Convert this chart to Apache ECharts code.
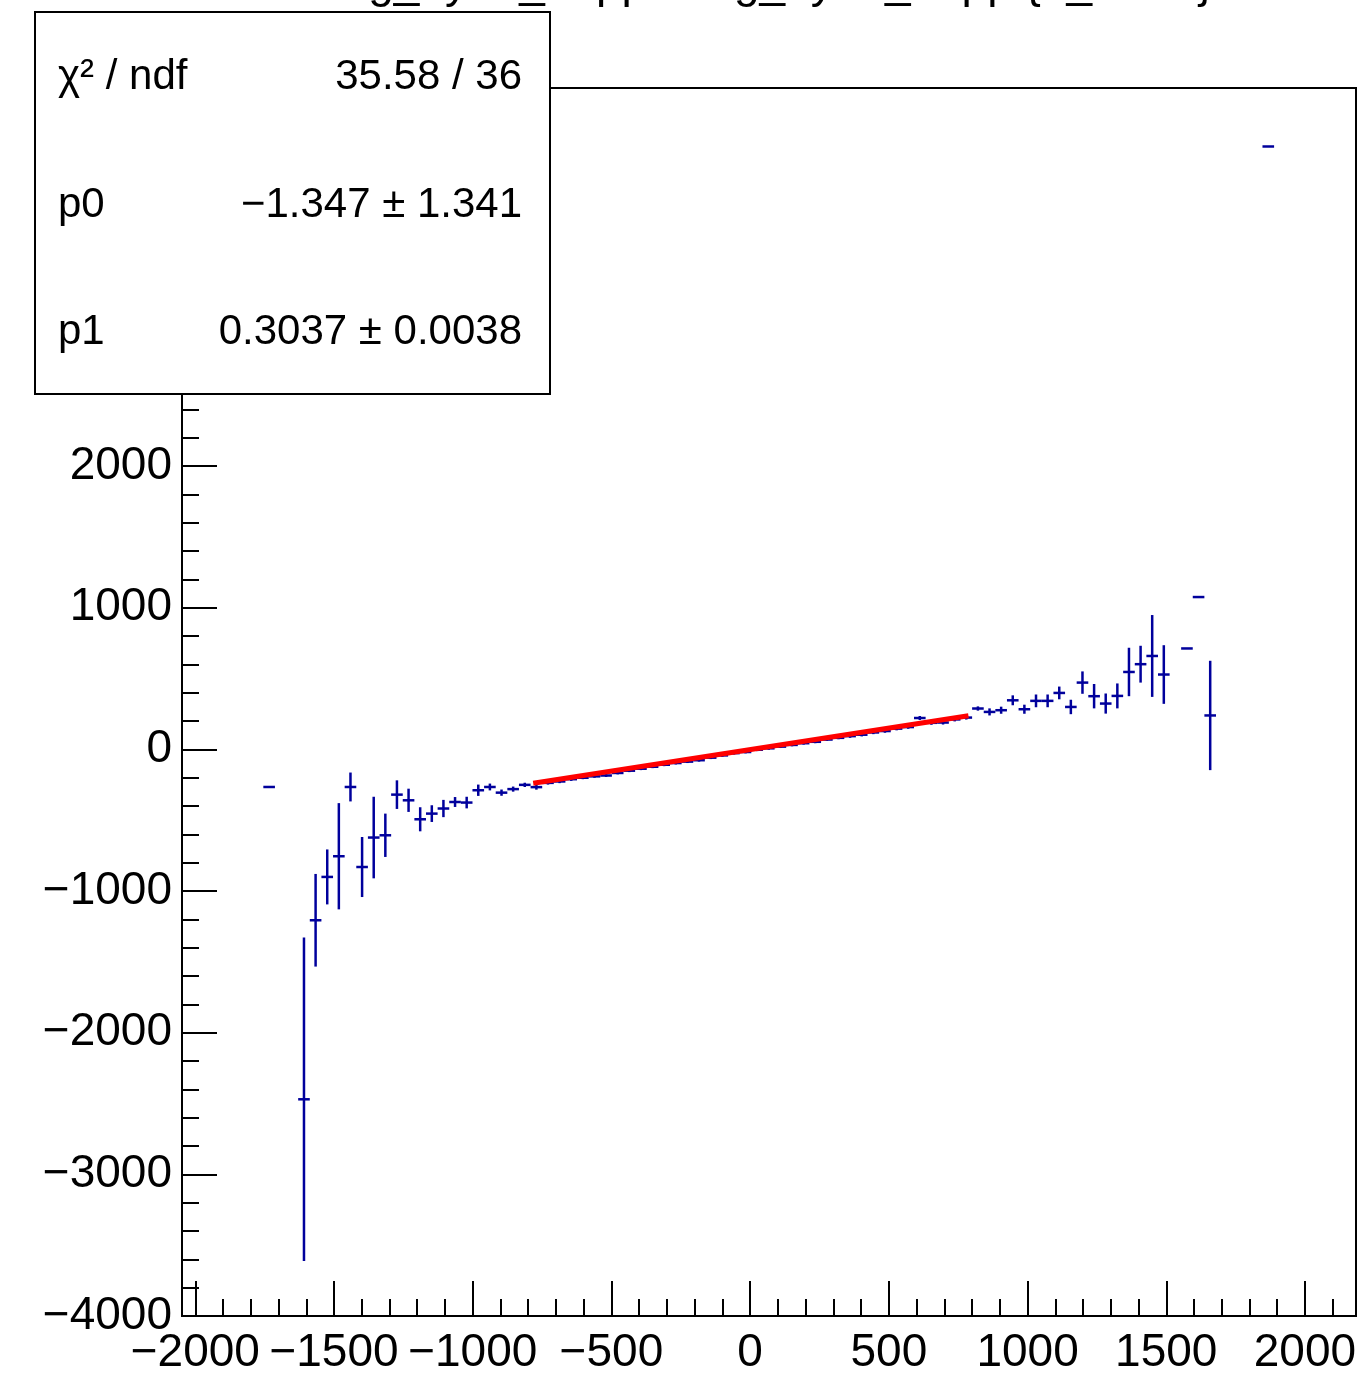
<!DOCTYPE html>
<html><head><meta charset="utf-8">
<script src="https://cdn.jsdelivr.net/npm/echarts@6/dist/echarts.min.js"></script>
<style>html,body{margin:0;padding:0;background:#fff}#c{width:1358px;height:1375px}</style>
</head><body><div id="c"></div>
<script>
// ---- profile bins: centre, mean, error ----
const binCenters = [
  -1733.9,
  -1608.3, -1566.4, -1524.5, -1482.6, -1440.7, -1398.8, -1356.9, -1315.0, -1273.2, -1231.3,
  -1189.4, -1147.5, -1105.6, -1063.7, -1021.8, -980.0, -938.1, -896.2, -854.3,
  -812.4, -770.5, -728.7, -686.8, -644.9, -603.0, -561.1, -519.2, -477.4, -435.5,
  -393.6, -351.7, -309.8, -267.9, -226.0, -184.2, -142.3, -100.4, -58.5, -16.6,
  25.3, 67.2, 109.0, 150.9, 192.8, 234.7, 276.6, 318.5, 360.3, 402.2,
  444.1, 486.0, 527.9, 569.8, 611.6, 653.5, 695.4, 737.3, 779.2,
  821.1, 863.0, 904.8, 946.7, 988.6, 1030.5, 1072.4, 1114.3, 1156.1, 1198.0,
  1239.9, 1281.8, 1323.7, 1365.6, 1407.5, 1449.3, 1491.2,
  1574.6, 1616.5, 1658.4, 1867.8];
const binMeans = [
  -265,
  -2470, -1206, -900, -754, -265, -830, -622, -606, -319, -359,
  -493, -453, -417, -371, -375, -288, -265, -305, -280,
  -250, -266, -236, -226, -210, -200, -190, -184, -166, -150,
  -136, -122, -108, -96, -86, -76, -58, -42, -26, -18,
  -2, 8, 20, 32, 44, 54, 70, 82, 94, 104,
  120, 130, 147, 158, 222, 188, 190, 212, 225,
  289, 265, 277, 347, 284, 343, 343, 399, 300, 472,
  376, 324, 378, 547, 602, 660, 529,
  713, 1076, 240, 4257];
const binErrors = [
  0,
  1142, 327, 194, 375, 102, 212, 288, 153, 101, 82,
  85, 59, 61, 35, 41, 40, 24, 22, 18,
  15, 18, 12, 12, 12, 10, 10, 10, 10, 10,
  10, 10, 10, 10, 10, 10, 10, 10, 10, 10,
  10, 10, 10, 10, 10, 10, 10, 10, 12, 12,
  12, 12, 12, 12, 14, 14, 14, 14, 14,
  15, 25, 25, 35, 32, 45, 45, 45, 51, 79,
  86, 71, 88, 171, 130, 289, 207,
  0, 0, 386, 0];
const binWidth = 41.88;

// ---- fit (pol1) ----
const fitP0 = -1.347;
const fitP1 = 0.3037;
const fitRange = [-782, 787];

// ---- axes ----
const xRange = [-2048, 2184];
const yRange = [-4000, 4670];
const xMajorTicks = [-2000, -1500, -1000, -500, 0, 500, 1000, 1500, 2000];
const yMajorTicks = [-4000, -3000, -2000, -1000, 0, 1000, 2000, 3000, 4000];
const xMinorStep = 100;
const yMinorStep = 200;

// ---- texts ----
const titleText = 'avg_dy12_tmpp : avg_dy12_tmpp {n_2==1}';
const statsNames = ['\u03c7\u00b2 / ndf', 'p0', 'p1'];
const statsValues = ['35.58 / 36', '\u22121.347 \u00b1 1.341', '0.3037 \u00b1 0.0038'];

// ------------------------------------------------------------------
const FONT = '"Liberation Sans", Arial, Helvetica, sans-serif';
const BLUE = '#00009c';

const xMinorTicks = [];
for (let v = -2000; v <= xRange[1]; v += xMinorStep) xMinorTicks.push(v);
const yMinorTicks = [];
for (let v = -4000; v <= yRange[1]; v += yMinorStep) yMinorTicks.push(v);

const fmt = v => (v < 0 ? '\u2212' + Math.abs(v) : String(v));

const profileData = binCenters.map((x, i) => [x, binMeans[i], binErrors[i]]);
const fitY = x => fitP0 + fitP1 * x;
const fitData = [[fitRange[0], fitY(fitRange[0])], [fitRange[1], fitY(fitRange[1])]];

function axisCommon(extra) {
  return Object.assign({
    type: 'value',
    splitLine: { show: false },
    axisLine: { show: true, onZero: false, lineStyle: { color: '#000', width: 2 } },
    axisTick: { show: true, inside: true, lineStyle: { color: '#000', width: 2 } },
    axisLabel: { show: false }
  }, extra);
}

const chart = echarts.init(document.getElementById('c'), null, { renderer: 'canvas' });
const statsY = [77, 205, 332];

chart.setOption({
  animation: false,
  backgroundColor: '#fff',
  grid: {
    left: 182, top: 88, right: 2, bottom: 59,
    show: true, borderColor: '#000', borderWidth: 2,
    outerBoundsMode: 'none', containLabel: false
  },
  xAxis: [
    axisCommon({
      min: xRange[0], max: xRange[1], position: 'bottom',
      axisTick: { show: true, inside: true, length: 35, customValues: xMajorTicks, lineStyle: { color: '#000', width: 2 } },
      axisLabel: { show: true, customValues: xMajorTicks, formatter: fmt, color: '#000',
        fontSize: 46, fontFamily: FONT, margin: 14 }
    }),
    axisCommon({
      min: xRange[0], max: xRange[1], position: 'bottom',
      axisLine: { show: false, onZero: false },
      axisTick: { show: true, inside: true, length: 17, customValues: xMinorTicks, lineStyle: { color: '#000', width: 2 } }
    })
  ],
  yAxis: [
    axisCommon({
      min: yRange[0], max: yRange[1], position: 'left',
      axisTick: { show: true, inside: true, length: 35, customValues: yMajorTicks, lineStyle: { color: '#000', width: 2 } },
      axisLabel: { show: true, customValues: yMajorTicks, formatter: fmt, color: '#000',
        fontSize: 46, fontFamily: FONT, margin: 10 }
    }),
    axisCommon({
      min: yRange[0], max: yRange[1], position: 'left',
      axisLine: { show: false, onZero: false },
      axisTick: { show: true, inside: true, length: 17, customValues: yMinorTicks, lineStyle: { color: '#000', width: 2 } }
    })
  ],
  series: [
    {
      type: 'custom',
      xAxisIndex: 0, yAxisIndex: 0,
      clip: true,
      data: profileData,
      renderItem: function (params, api) {
        const x = api.value(0), y = api.value(1), e = api.value(2);
        const hw = binWidth / 2;
        const l = api.coord([x - hw, y]);
        const r = api.coord([x + hw, y]);
        const children = [{
          type: 'line',
          shape: { x1: l[0], y1: l[1], x2: r[0], y2: r[1] },
          style: { stroke: BLUE, lineWidth: 2.5 }
        }];
        if (e > 0) {
          const t = api.coord([x, y + e]);
          const b = api.coord([x, y - e]);
          children.push({
            type: 'line',
            shape: { x1: t[0], y1: t[1], x2: b[0], y2: b[1] },
            style: { stroke: BLUE, lineWidth: 2.5 }
          });
        }
        return { type: 'group', children: children };
      },
      z: 3
    },
    {
      type: 'line',
      xAxisIndex: 0, yAxisIndex: 0,
      data: fitData,
      symbol: 'none',
      lineStyle: { color: '#ff0000', width: 5 },
      z: 4
    }
  ],
  graphic: [
    {
      type: 'text', z: 50,
      style: { text: titleText, x: 766, y: -16, fill: '#000',
        font: '46px ' + FONT, align: 'center', verticalAlign: 'middle' }
    },
    { type: 'rect', zlevel: 5, z: 100, shape: { x: 35, y: 12, width: 515, height: 382 },
      style: { fill: '#fff', stroke: '#000', lineWidth: 2 } }
  ].concat(statsNames.map((t, i) => ({
    type: 'text', zlevel: 5, z: 101,
    style: { text: t, x: 58, y: statsY[i], fill: '#000', font: '42px ' + FONT,
      align: 'left', verticalAlign: 'middle' }
  }))).concat(statsValues.map((t, i) => ({
    type: 'text', zlevel: 5, z: 101,
    style: { text: t, x: 522, y: statsY[i], fill: '#000', font: '42px ' + FONT,
      align: 'right', verticalAlign: 'middle' }
  })))
});
</script>
</body></html>
